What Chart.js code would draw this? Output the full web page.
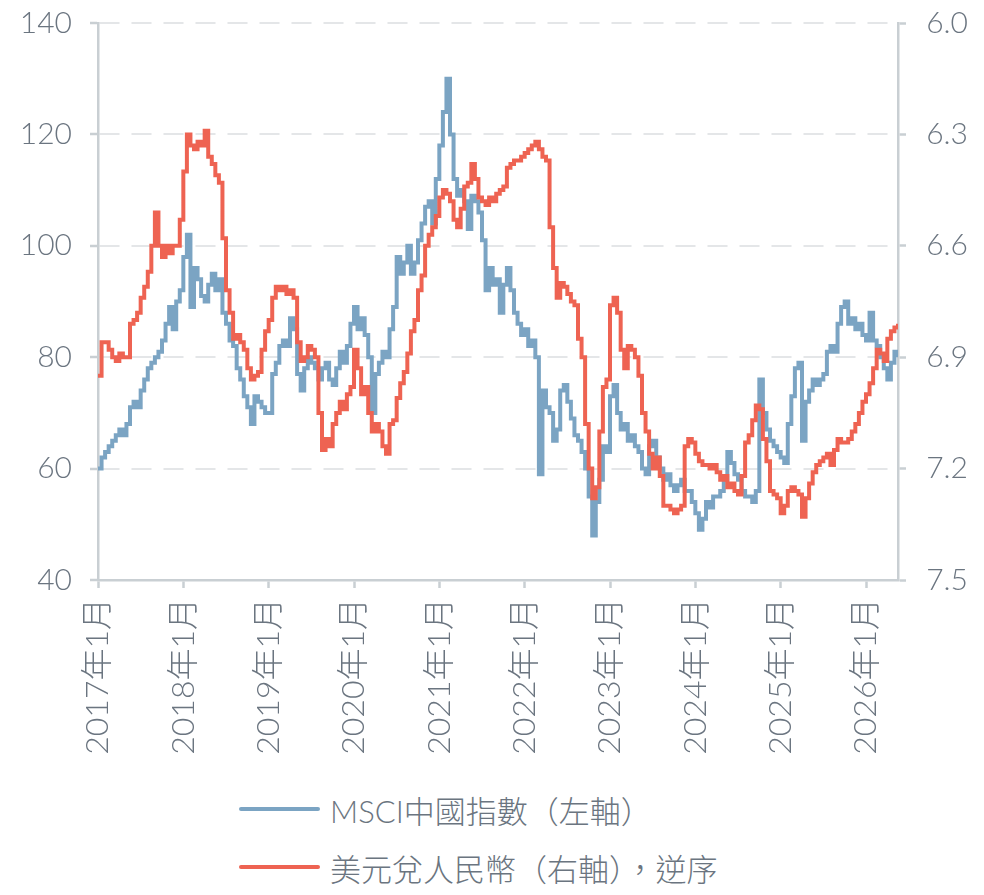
<!DOCTYPE html>
<html>
<head>
<meta charset="utf-8">
<script src="https://cdn.jsdelivr.net/npm/chart.js@4.4.1/dist/chart.umd.min.js"></script>
<style>
  html, body { margin: 0; padding: 0; background: #ffffff; }
  #wrap { position: relative; width: 984px; height: 895px; }
  #legend {
    position: absolute; left: 239px; top: 780px;
    font-family: Lato, "Noto Sans CJK TC", sans-serif; font-size: 31px; font-weight: 300; color: #6b7580;
  }
  .item { display: flex; align-items: center; height: 58px; }
  .swatch { width: 81px; height: 4px; border-radius: 2px; margin-right: 10px; }
</style>
</head>
<body>
<div id="wrap">
  <canvas id="chart" width="984" height="770"></canvas>
  <div id="legend"></div>
</div>
<script>
// semi-monthly readings, Jan 2017 .. May 2026 (two per month)
const startYear = 2017;
const seriesNames = ['MSCI中國指數（左軸）', '美元兌人民幣（右軸），逆序'];

const msciChina = [
  60,62, 63,64, 65,66, 67,66, 68,71, 72,71, 74,76, 78,79, 80,81, 83,86, 89,85, 90,92,
  98,102, 89,96, 94,91, 90,93, 95,92, 94,88, 86,83, 82,78, 76,73, 71,68, 73,72, 71,70,
  70,77, 79,82, 83,82, 87,85, 77,74, 78,80, 79,78, 76,78, 79,76, 75,78, 81,79, 82,86,
  89,85, 87,84, 80,70, 77,79, 81,80, 85,89, 98,95, 97,100, 95,97, 101,104, 107,108, 104,112,
  118,124, 130,120, 112,109, 110,108, 103,109, 108,106, 101,92, 96,93, 94,88, 93,96, 92,88, 86,84,
  85,82, 83,80, 59,74, 71,70, 65,67, 74,75, 72,69, 66,65, 63,60, 55,48, 54,58, 64,63,
  73,75, 70,67, 68,65, 66,64, 63,60, 59,64, 65,62, 60,58, 59,57, 56,57, 58,56, 56,54,
  52,49, 51,54, 53,55, 55,56, 58,63, 61,59, 58,56, 55,55, 54,56, 76,70, 67,65, 64,63,
  62,61, 68,73, 78,79, 65,72, 74,76, 75,76, 77,81, 82,81, 86,89, 90,86, 87,85, 86,84,
  83,88, 83,82, 80,78, 76,79, 81,80
];

const usdCny = [
  6.95,6.86, 6.86,6.88, 6.90,6.91, 6.89,6.90, 6.90,6.81, 6.80,6.78, 6.74,6.71, 6.67,6.60, 6.51,6.60, 6.63,6.60, 6.62,6.60, 6.60,6.53,
  6.40,6.30, 6.33,6.34, 6.32,6.33, 6.29,6.36, 6.38,6.41, 6.43,6.58, 6.72,6.78, 6.85,6.84, 6.86,6.88, 6.93,6.96, 6.95,6.94, 6.88,6.83,
  6.80,6.74, 6.71,6.72, 6.71,6.73, 6.72,6.74, 6.86,6.91, 6.90,6.87, 6.88,6.90, 7.05,7.15, 7.12,7.14, 7.08,7.05, 7.02,7.04, 7.00,6.98,
  6.88,6.93, 7.00,6.98, 7.05,7.10, 7.08,7.10, 7.14,7.16, 7.08,7.07, 7.01,6.97, 6.94,6.89, 6.83,6.80, 6.72,6.68, 6.60,6.57, 6.55,6.52,
  6.47,6.45, 6.46,6.48, 6.53,6.55, 6.50,6.44, 6.43,6.38, 6.42,6.47, 6.48,6.49, 6.47,6.48, 6.46,6.45, 6.44,6.39, 6.38,6.37, 6.37,6.36,
  6.35,6.34, 6.33,6.32, 6.34,6.36, 6.37,6.55, 6.66,6.74, 6.70,6.71, 6.73,6.75, 6.76,6.85, 6.90,7.08, 7.20,7.28, 7.25,7.10, 6.98,6.96,
  6.76,6.74, 6.78,6.88, 6.93,6.87, 6.88,6.90, 6.95,7.05, 7.10,7.16, 7.20,7.17, 7.22,7.30, 7.30,7.31, 7.32,7.31, 7.30,7.14, 7.12,7.13,
  7.16,7.18, 7.19,7.19, 7.20,7.19, 7.21,7.23, 7.22,7.25, 7.24,7.26, 7.27,7.22, 7.13,7.11, 7.07,7.03, 7.04,7.12, 7.18,7.26, 7.27,7.28,
  7.32,7.30, 7.26,7.25, 7.26,7.27, 7.33,7.28, 7.24,7.21, 7.19,7.18, 7.17,7.16, 7.19,7.15, 7.12,7.13, 7.13,7.12, 7.10,7.08, 7.05,7.02,
  7.00,6.97, 6.93,6.88, 6.89,6.91, 6.85,6.83, 6.82,6.81
];

const leftTicks = [40, 60, 80, 100, 120, 140];
const rightTicks = [6.0, 6.3, 6.6, 6.9, 7.2, 7.5];
const yearTicks = [2017, 2018, 2019, 2020, 2021, 2022, 2023, 2024, 2025, 2026];

const colors = ['#7ba4c3', '#ee6352'];
const textColor = '#6b7580';
const axisColor = '#c9cfd3';
const fontFamily = 'Lato, "Noto Sans CJK TC", sans-serif';

// x position of each reading as a fractional year
const toPoints = (values) => values.map((v, i) => ({ x: startYear + i / 24, y: v }));
const lastX = startYear + (msciChina.length - 1) / 24;

// fixed axis sizes so the plot area lands where the original one is
const fitWidth = (w) => (scale) => {
  scale.width = w;
  scale.paddingTop = 0;
  scale.paddingBottom = 0;
};

const chartData = {
  datasets: [
    {
      label: seriesNames[0],
      data: toPoints(msciChina),
      yAxisID: 'yLeft',
      borderColor: colors[0],
      borderWidth: 4,
      pointRadius: 0,
      stepped: true,
      order: 1,
    },
    {
      label: seriesNames[1],
      data: toPoints(usdCny),
      yAxisID: 'yRight',
      borderColor: colors[1],
      borderWidth: 4,
      pointRadius: 0,
      stepped: true,
      order: 0,
    },
  ],
};

const chartOptions = {
  responsive: false,
  animation: false,
  devicePixelRatio: 1,
  layout: { padding: { top: 23, left: 0, right: 16, bottom: 0 } },
  plugins: {
    legend: { display: false },
    tooltip: { enabled: false },
  },
  scales: {
    x: {
      type: 'linear',
      min: startYear,
      max: lastX,
      afterFit: (scale) => { scale.height = 190; },
      afterBuildTicks: (scale) => { scale.ticks = yearTicks.map((v) => ({ value: v })); },
      ticks: {
        autoSkip: false,
        maxRotation: 90,
        minRotation: 90,
        padding: 10,
        color: textColor,
        font: { family: fontFamily, size: 32, weight: 300 },
        callback: (v) => v + '年1月',
      },
      grid: { drawOnChartArea: false, tickLength: 8, tickColor: axisColor, tickWidth: 2.5 },
      border: { color: axisColor, width: 2.5 },
    },
    yLeft: {
      position: 'left',
      min: 40,
      max: 140,
      afterFit: fitWidth(98),
      afterBuildTicks: (scale) => { scale.ticks = leftTicks.map((v) => ({ value: v })); },
      ticks: {
        padding: 18,
        color: textColor,
        font: { family: fontFamily, size: 30, weight: 300 },
      },
      grid: { color: '#e4e6e8', lineWidth: 2, tickLength: 8, tickColor: axisColor, tickWidth: 2.5 },
      border: { color: axisColor, width: 2.5, dash: [20, 12] },
    },
    yRight: {
      position: 'right',
      reverse: true,
      min: 6.0,
      max: 7.5,
      afterFit: fitWidth(70),
      afterBuildTicks: (scale) => { scale.ticks = rightTicks.map((v) => ({ value: v })); },
      ticks: {
        padding: 18,
        crossAlign: 'far',
        color: textColor,
        font: { family: fontFamily, size: 30, weight: 300 },
        callback: (v) => Number(v).toFixed(1),
      },
      grid: { drawOnChartArea: false, tickLength: 8, tickColor: axisColor, tickWidth: 2.5 },
      border: { color: axisColor, width: 2.5 },
    },
  },
};

const ctx = document.getElementById('chart').getContext('2d');
new Chart(ctx, { type: 'line', data: chartData, options: chartOptions });

// legend as two stacked rows
const legendBox = document.getElementById('legend');
seriesNames.forEach((name, i) => {
  const row = document.createElement('div');
  row.className = 'item';
  row.innerHTML = '<span class="swatch" style="background:' + colors[i] + '"></span><span>' + name + '</span>';
  legendBox.appendChild(row);
});
</script>
</body>
</html>
